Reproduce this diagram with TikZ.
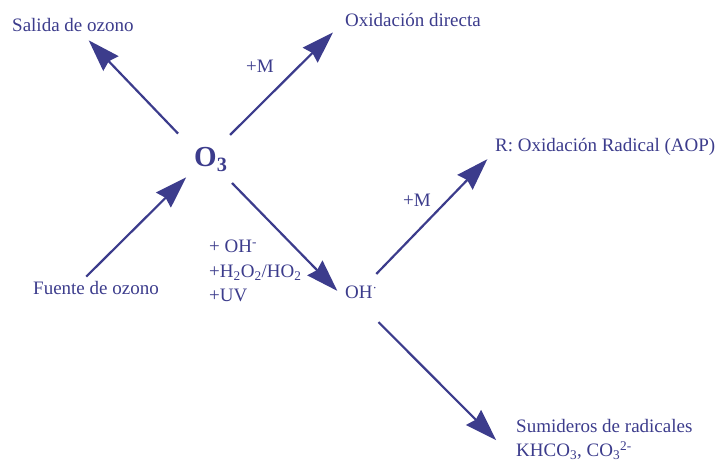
\documentclass[tikz,border=0pt]{standalone}
\usepackage{fontspec}
\setmainfont{Liberation Serif}
\usetikzlibrary{arrows.meta}
\definecolor{tinta}{RGB}{60,60,140}

\begin{document}
\begin{tikzpicture}[
            x=1pt,
            y=-1pt,
            texto/.style={
                text=tinta,
                inner sep=0pt,
                font=\fontsize{19}{24.5}\selectfont
            },
            flecha/.style={
                draw=tinta,
                line width=2.2pt,
                -{Stealth[length=32pt,width=21pt,inset=3pt]}
            }
        ]

            \useasboundingbox (0,0) rectangle (723,462);

            \node[texto, anchor=base west] (salida) at (12,32) {Salida de ozono};
            \node[texto, anchor=base west] (directa) at (345,27) {Oxidación directa};
            \node[texto, anchor=base west] (m1) at (246,73) {+M};

            \node[texto, anchor=base west, font=\fontsize{29}{30}\selectfont\bfseries]
                (o3) at (194,167) {O\textsubscript{3}};

            \node[texto, anchor=base west] (radical) at (495,152) {R: Oxidación Radical (AOP)};
            \node[texto, anchor=base west] (m2) at (403,207) {+M};

            \node[texto, anchor=north west, align=left] (reactivos) at (209,240)
                {+ OH\textsuperscript{-}\\
                 +H\textsubscript{2}O\textsubscript{2}/HO\textsubscript{2}\\
                 +UV};
            \node[texto, anchor=base west] (fuente) at (33,295) {Fuente de ozono};
            \node[texto, anchor=base west] (oh) at (345,299) {OH\textsuperscript{·}};

            \node[texto, anchor=north west, align=left] (sumideros) at (516,419)
                {Sumideros de radicales\\
                 KHCO\textsubscript{3}, CO\textsubscript{3}\textsuperscript{2-}};

            \draw[flecha, shorten <=23pt, shorten >=11pt] (o3.150) -- (salida.-40);
            \draw[flecha, shorten <=18pt, shorten >=17pt] (o3.62) -- (directa.west);
            \draw[flecha, shorten <=7pt, shorten >=11pt] (fuente.155) -- (o3.210);

            \draw[flecha, shorten <=15pt, shorten >=11pt] (o3.-49) -- (oh.200);
            \draw[flecha, shorten <=17pt, shorten >=11pt] (oh.65) -- (radical.182);
            \draw[flecha, shorten <=32pt, shorten >=28pt] (oh.230) -- (sumideros.south west);

        \end{tikzpicture}
\end{document}
